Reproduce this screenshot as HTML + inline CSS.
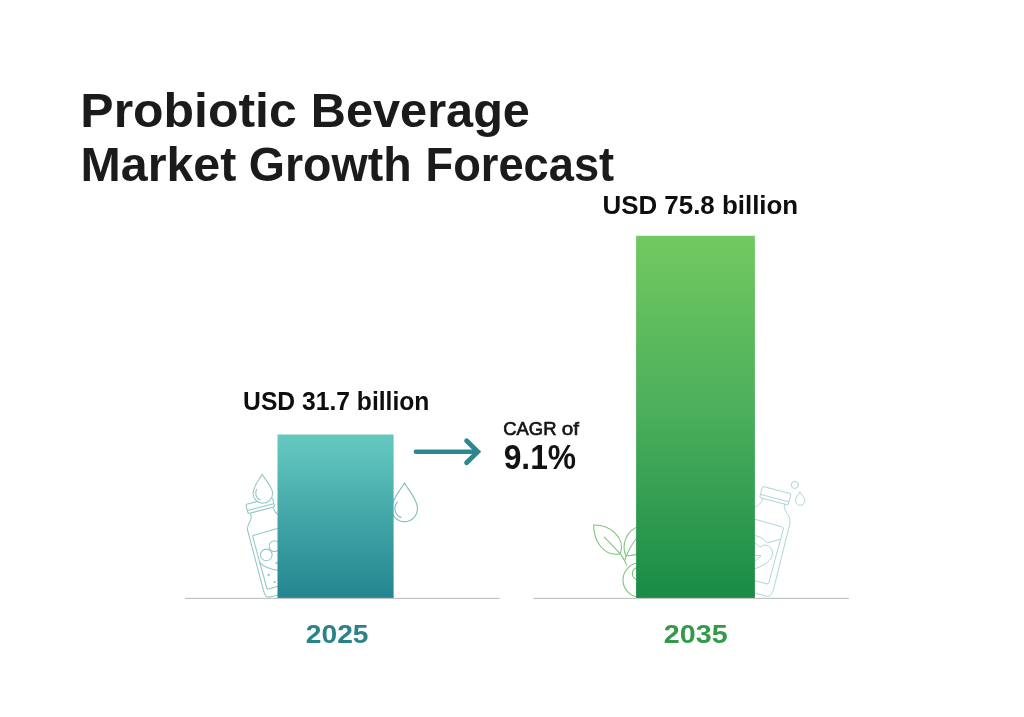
<!DOCTYPE html>
<html lang="en">
<head>
<meta charset="utf-8">
<title>Probiotic Beverage Market Growth Forecast</title>
<style>
  html, body { margin: 0; padding: 0; background: #ffffff; }
  body { width: 1024px; height: 717px; overflow: hidden; position: relative; }
  svg { position: absolute; left: 0; top: 0; display: block; }
  text { font-family: "Liberation Sans", sans-serif; }
</style>
</head>
<body>
<svg width="1024" height="717" viewBox="0 0 1024 717">
  <defs>
    <linearGradient id="gTeal" x1="0" y1="0" x2="0" y2="1">
      <stop offset="0" stop-color="#66c9c1"/>
      <stop offset="0.5" stop-color="#43a7a8"/>
      <stop offset="1" stop-color="#248590"/>
    </linearGradient>
    <linearGradient id="gGreen" x1="0" y1="0" x2="0" y2="1">
      <stop offset="0" stop-color="#72c960"/>
      <stop offset="0.5" stop-color="#4aae5b"/>
      <stop offset="1" stop-color="#198b46"/>
    </linearGradient>
  </defs>
  <rect x="0" y="0" width="1024" height="717" fill="#ffffff"/>

  <!-- decorative icons: left bottle with drop -->
  <g fill="none" stroke="#8fc7c3" stroke-width="1.05" stroke-linecap="round" stroke-linejoin="round">
    <!-- cap -->
    <g transform="translate(245.8 504.5) rotate(-14.4)">
      <rect x="0" y="0" width="27.4" height="9.4" rx="1.6" fill="#ffffff"/>
      <path d="M0.4 6.2 H27"/>
    </g>
    <!-- drop on top -->
    <path d="M262.1 474.3 C259.5 479.5 253.1 486.5 253.1 493.4 A9.75 9.75 0 0 0 272.6 493.4 C272.6 486.5 264.8 479.5 262.1 474.3 Z" fill="#ffffff"/>
    <path d="M256.6 489.6 A7.2 7.2 0 0 0 260 499.8"/>
    <!-- neck and body -->
    <path d="M250.4 513.8 C251.4 516 251.6 518 250.6 520 C249 523 247 526 247.4 529.5 L263.6 590.8 C264.6 595 266.2 597.6 269.6 597 L279 594.9"/>
    <path d="M273.6 507.9 C274 510.5 274.8 513 279 514.6"/>
    <!-- label -->
    <path d="M279 528 L253.6 535.3 Q252.4 535.7 252.8 537 L266.8 588 Q267.2 589.4 268.6 589 L279 586"/>
    <!-- bubbles -->
    <circle cx="274.5" cy="546.2" r="5.4"/>
    <circle cx="266.3" cy="554.9" r="5.8" fill="#ffffff"/>
    <path d="M260 562.9 C263 566 270 569.5 279 570.4"/>
    <circle cx="268.6" cy="575" r="1.15" fill="#8fc7c3" stroke="none"/>
    <circle cx="274.8" cy="582.1" r="1.15" fill="#8fc7c3" stroke="none"/>
    <circle cx="276.7" cy="562.9" r="1.15" fill="#8fc7c3" stroke="none"/>
  </g>

  <!-- drop right of teal bar -->
  <g fill="none" stroke="#84c0bd" stroke-width="1.15" stroke-linecap="round" stroke-linejoin="round">
    <path d="M404.5 482.9 C401 489.5 391.5 499.5 391.5 508.6 A13 13 0 0 0 417.5 508.6 C417.5 499.5 408 489.5 404.5 482.9 Z"/>
    <path d="M397.3 502.2 A9.5 9.5 0 0 0 401 517.4"/>
  </g>

  <!-- leaves left of green bar -->
  <g fill="none" stroke="#80c47e" stroke-width="1.1" stroke-linecap="round" stroke-linejoin="round">
    <path d="M593.7 525.1 C609 524.5 626 537 620.4 553.9 C603 557 593.5 540 593.7 525.1 Z"/>
    <path d="M604.4 537.2 L620.4 553.9 Q624 559 626.7 565.1"/>
    <path d="M626 556 C621 545 626 530 640 526"/>
    <path d="M626 556 C630 555.6 634 555 640 553.6"/>
    <path d="M640 534 C633 542 628 550 624.9 560.2"/>
    <circle cx="640.2" cy="580" r="17.2"/>
    <circle cx="638.7" cy="573.7" r="6.4"/>
  </g>

  <!-- bottle right of green bar -->
  <g fill="none" stroke="#aed6d9" stroke-width="1" stroke-linecap="round" stroke-linejoin="round">
    <g transform="translate(762.55 486.3) rotate(14.8)">
      <rect x="0" y="0" width="29.4" height="11.6" rx="1.8"/>
      <path d="M0.4 8.4 H29"/>
    </g>
    <path d="M762.55 498.85 C761.6 503 759 505.5 753 508"/>
    <path d="M784.7 504.3 C783.8 507 784.4 509.5 786.4 512.5 C788.4 515.5 790.6 518.5 790 523 L774 587.5 C772.6 593 770.4 597.2 766.4 596.3 L753 592.5"/>
    <path d="M753 518.7 L782.4 527 Q783.8 527.4 783.4 528.8 L768.8 582.8 Q768.4 584.3 767 583.9 L753 580.3"/>
    <path d="M753 535.4 C760 535.6 763 539 767.3 542.8 L780.1 539.5"/>
    <path d="M753 543 C755.5 543 758 544.6 760 547.3 C763 544 768 544.4 771 548.2 C774.4 553 772 559.5 765 564 C761.5 566.3 757.5 568 753 569.6"/>
    <path d="M753 555.1 L761.2 555.7 L753 563"/>
    <circle cx="794.9" cy="484.9" r="3.6"/>
    <path d="M799.8 492.2 C798.4 495 795.5 497.6 795.5 500.6 A4.7 4.7 0 0 0 804.9 500.6 C804.9 497.6 801.4 495 799.8 492.2 Z"/>
  </g>

  <!-- baselines -->
  <rect x="185" y="597.8" width="314.6" height="1.25" fill="#c2c3c3"/>
  <rect x="533.4" y="597.8" width="315.4" height="1.25" fill="#c2c3c3"/>

  <!-- bars -->
  <rect x="277.5" y="434.5" width="116.1" height="163.4" fill="url(#gTeal)"/>
  <rect x="636.1" y="235.8" width="118.8" height="362.1" fill="url(#gGreen)"/>

  <!-- title -->
  <text y="127" font-size="47.2" font-weight="700" fill="#1b1b1b"><tspan x="80.36" textLength="216.32" lengthAdjust="spacingAndGlyphs">Probiotic</tspan> <tspan x="310.85" textLength="219.08" lengthAdjust="spacingAndGlyphs">Beverage</tspan></text>
  <text y="181.3" font-size="47.2" font-weight="700" fill="#1b1b1b"><tspan x="80.57" textLength="155.77" lengthAdjust="spacingAndGlyphs">Market</tspan> <tspan x="248.83" textLength="162.82" lengthAdjust="spacingAndGlyphs">Growth</tspan> <tspan x="425.58" textLength="188.55" lengthAdjust="spacingAndGlyphs">Forecast</tspan></text>

  <!-- value labels -->
  <text x="243.12" y="410" font-size="25" font-weight="700" fill="#0e0e0e" textLength="186.3" lengthAdjust="spacingAndGlyphs">USD 31.7 billion</text>
  <text x="602.45" y="214.4" font-size="25" font-weight="700" fill="#0e0e0e" textLength="195.74" lengthAdjust="spacingAndGlyphs">USD 75.8 billion</text>

  <!-- CAGR -->
  <text y="435.1" font-size="18.5" font-weight="400" fill="#141414" stroke="#141414" stroke-width="0.65"><tspan x="503.2" textLength="53.3" lengthAdjust="spacingAndGlyphs">CAGR</tspan> <tspan x="561.75" textLength="17.2" lengthAdjust="spacingAndGlyphs">of</tspan></text>
  <text x="503.67" y="469.4" font-size="35" font-weight="700" fill="#121212" textLength="72.37" lengthAdjust="spacingAndGlyphs">9.1%</text>

  <!-- arrow -->
  <g fill="none" stroke="#2c8790" stroke-linecap="round">
    <path d="M415.8 451.7 H477" stroke-width="4.4"/>
    <path d="M466.6 440.7 L477.8 451.7 L466.6 462.7" stroke-width="4.8" stroke-linejoin="miter" stroke-miterlimit="10"/>
  </g>

  <!-- years -->
  <text x="305.8" y="643.3" font-size="25.6" font-weight="700" fill="#2b8388" textLength="62.66" lengthAdjust="spacingAndGlyphs">2025</text>
  <text x="663.88" y="643.3" font-size="25.6" font-weight="700" fill="#35994a" textLength="63.79" lengthAdjust="spacingAndGlyphs">2035</text>
</svg>
</body>
</html>
